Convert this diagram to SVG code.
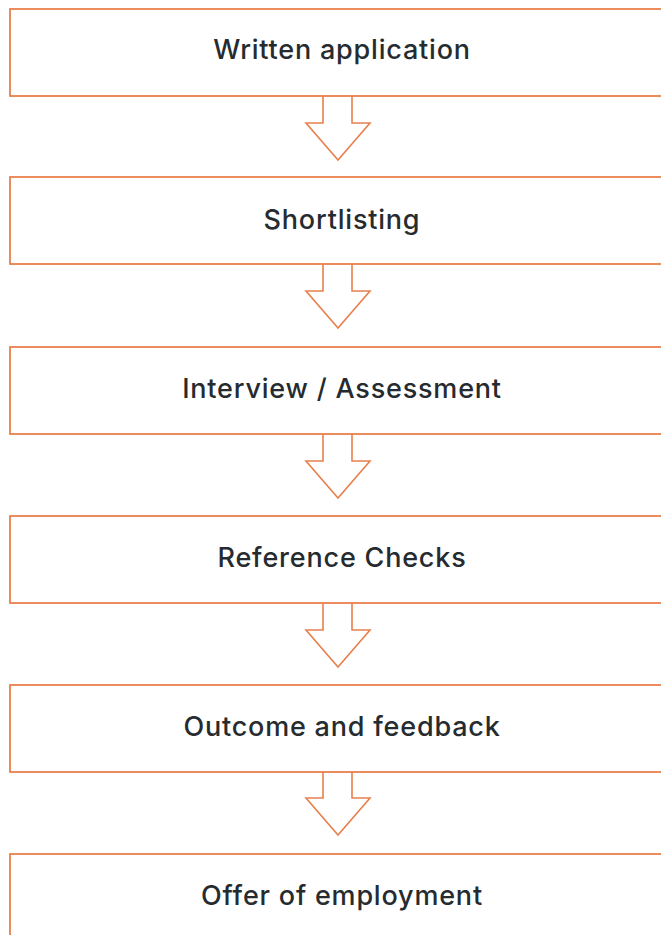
<svg xmlns="http://www.w3.org/2000/svg" width="661" height="935" viewBox="0 0 661 935">
<style>
.box{fill:#fff;stroke:#e8804d;stroke-width:1.8}
.arr{fill:#fff;stroke:#e8804d;stroke-width:1.6;stroke-linejoin:miter}
.t{font-family:Inter,"Noto Sans",sans-serif;font-size:27px;font-weight:500;letter-spacing:0.8px;fill:#262b2f;text-anchor:middle}
</style>
<rect width="661" height="935" fill="#fff"/>
<g id="connectors">
<path class="arr" d="M323 96 V123 H306 L338 160 L370 123 H352 V96"/>
<path class="arr" d="M323 264 V291 H306 L338 328 L370 291 H352 V264"/>
<path class="arr" d="M323 434 V461 H306 L338 498 L370 461 H352 V434"/>
<path class="arr" d="M323 603 V630 H306 L338 667 L370 630 H352 V603"/>
<path class="arr" d="M323 772 V798 H306 L338 835 L370 798 H352 V772"/>
</g>
<g id="n1"><rect class="box" x="10" y="9" width="700" height="87"/><text class="t" x="342" y="59">Written application</text></g>
<g id="n2"><rect class="box" x="10" y="177" width="700" height="87"/><text class="t" x="342" y="229">Shortlisting</text></g>
<g id="n3"><rect class="box" x="10" y="347" width="700" height="87"/><text class="t" x="342" y="398">Interview / Assessment</text></g>
<g id="n4"><rect class="box" x="10" y="516" width="700" height="87"/><text class="t" x="342" y="567">Reference Checks</text></g>
<g id="n5"><rect class="box" x="10" y="685" width="700" height="87"/><text class="t" x="342" y="736">Outcome and feedback</text></g>
<g id="n6"><rect class="box" x="10" y="854" width="700" height="120"/><text class="t" x="342" y="905">Offer of employment</text></g>
</svg>
